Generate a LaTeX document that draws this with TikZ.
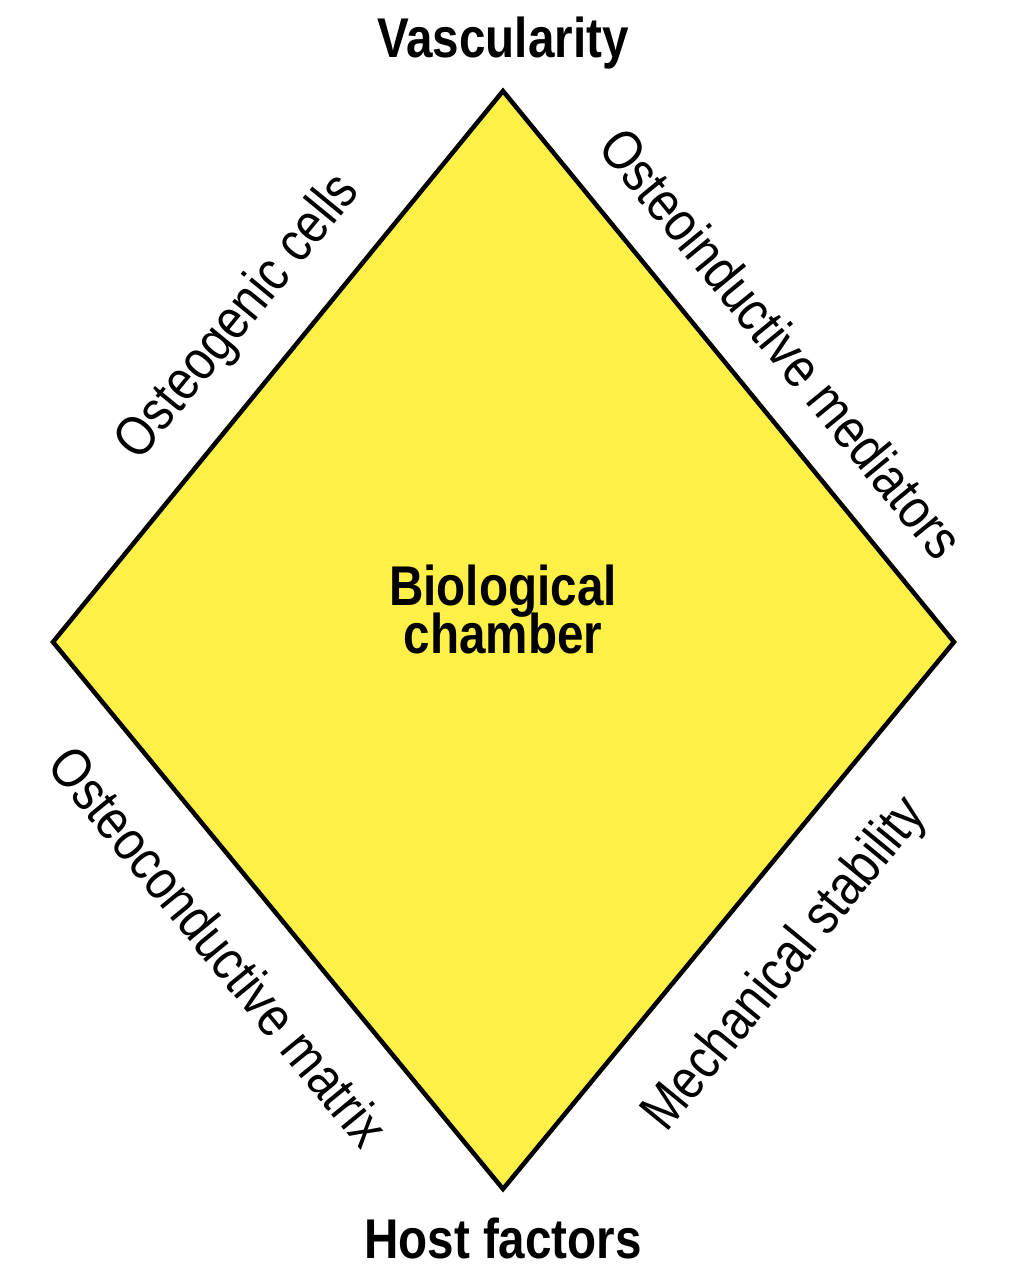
\documentclass[tikz,border=0pt]{standalone}
\usepackage{fontspec}
\setmainfont[FakeStretch=0.85]{Liberation Sans}
\definecolor{chamberyellow}{RGB}{255,240,72}
\begin{document}
\begin{tikzpicture}[x=1pt,y=-1pt,
  title/.style={inner sep=0pt, font=\fontsize{56}{47}\selectfont\bfseries},
  side/.style={inner sep=0pt, font=\fontsize{56}{47}\selectfont},
  chamber/.style={draw=black, line width=4.5pt, line join=miter, fill=chamberyellow}]
\useasboundingbox (0,0) rectangle (1024,1286);
\fill[white] (0,0) rectangle (1024,1286);
\coordinate (T) at (503,91);
\coordinate (R) at (954,642);
\coordinate (B) at (503,1189);
\coordinate (L) at (53,642);
\draw[chamber] (T) -- (R) -- (B) -- (L) -- cycle;
\node[title, anchor=base] (vasc) at (503,57) {Vascularity};
\node[title, anchor=base] (host) at (503,1258) {Host factors};
\node[title, anchor=base] (bioA) at (503,605) {Biological};
\node[title, anchor=base] (bioB) at (503,653) {chamber};
\node[side, rotate=50.65] (cells) at (239,318) {Osteogenic cells};
\node[side, rotate=-50.65] (mediators) at (782,343) {Osteoinductive mediators};
\node[side, rotate=-50.65] (matrix) at (219,946) {Osteoconductive matrix};
\node[side, rotate=50.65] (stability) at (786,965) {Mechanical stability};
\end{tikzpicture}
\end{document}
